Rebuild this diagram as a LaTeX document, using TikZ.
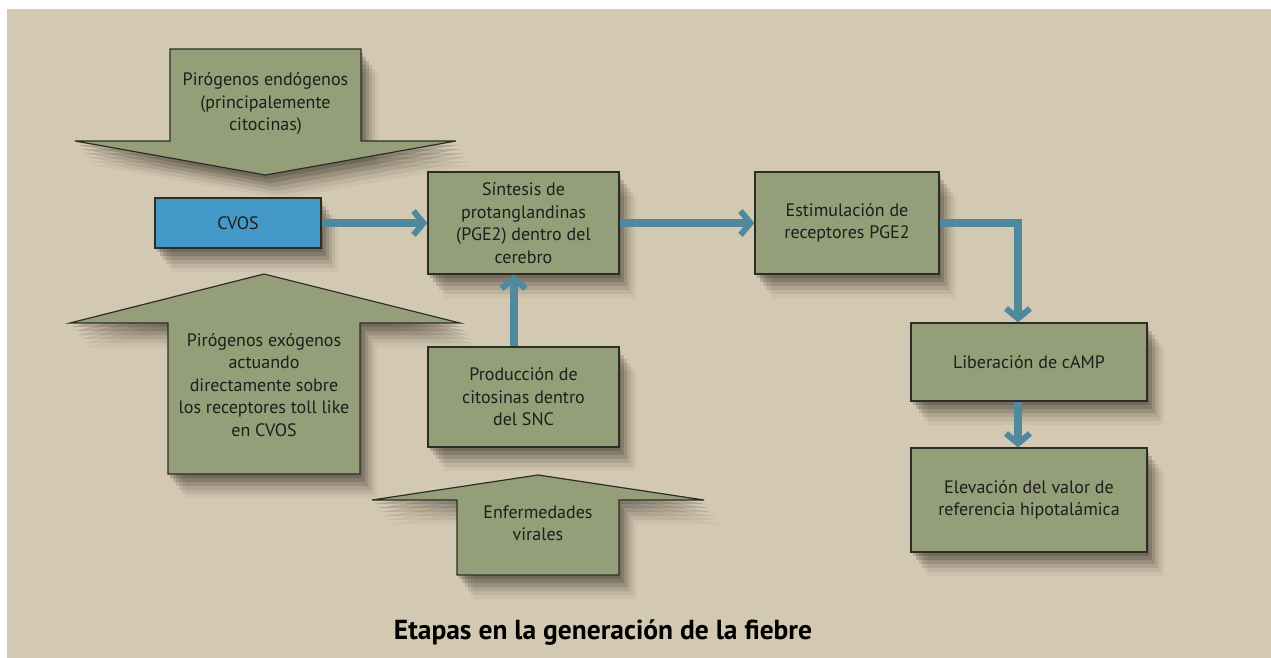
\documentclass[tikz,border=0pt]{standalone}
\usepackage{fontspec}
\setmainfont{PT Sans}
\usetikzlibrary{arrows.meta}

\definecolor{sand}{RGB}{211,200,178}
\definecolor{olive}{RGB}{148,158,121}
\definecolor{cvosblue}{RGB}{68,152,200}
\definecolor{flowteal}{RGB}{78,137,157}
\definecolor{edge}{RGB}{45,45,40}
\definecolor{ink}{RGB}{30,30,28}
\definecolor{shadowc}{RGB}{55,45,35}

\begin{document}
\begin{tikzpicture}[x=1pt,y=1pt]
        \tikzstyle{every node}+=[inner sep=0pt,text=ink,font=\fontsize{18}{22.5}\selectfont]
        \tikzstyle{halo}=[fill=shadowc,draw=none]
        \tikzstyle{shade}=[preaction={halo,opacity=.22,transform canvas={shift={(2pt,-4pt)}}},
                preaction={halo,opacity=.2,transform canvas={shift={(5pt,-8pt)}}},
                preaction={halo,opacity=.16,transform canvas={shift={(8pt,-12pt)}}},
                preaction={halo,opacity=.12,transform canvas={shift={(11pt,-16pt)}}},
                preaction={halo,opacity=.08,transform canvas={shift={(14pt,-20pt)}}},
                preaction={halo,opacity=.05,transform canvas={shift={(17pt,-24pt)}}}]
        \tikzstyle{stage}=[draw=edge,line width=1.2pt,fill=olive,shade,align=center]
        \tikzstyle{bigarrow}=[draw=edge,line width=1.2pt,fill=olive,shade]
        \tikzstyle{flow}=[draw=flowteal,line width=8pt,-{Straight Barb[length=10pt,width=24pt,line width=6pt,line join=miter]}]
        % frame
        \fill [white] (0,0) rectangle (1271,-658);
        \fill [sand] (7,-9) rectangle (1271,-658);
        \useasboundingbox (0,0) rectangle (1271,-658);
        % big arrows
        \draw [bigarrow] (170,-49) -- (361,-49) -- (361,-141) -- (456,-141) -- (265.5,-175) -- (75,-141) -- (170,-141) -- cycle;
        \node [align=center] (endo) at (265.5,-104) {Pirógenos endógenos\\(principalemente\\citocinas)};
        \draw [bigarrow] (168,-474) -- (360,-474) -- (360,-323) -- (460,-323) -- (264,-274) -- (70,-323) -- (168,-323) -- cycle;
        \node [align=center] (exo) at (264,-385) {Pirógenos exógenos\\actuando\\directamente sobre\\los receptores toll like\\en CVOS};
        \draw [bigarrow] (457,-575) -- (619,-575) -- (619,-500) -- (704,-500) -- (538,-475) -- (372,-500) -- (457,-500) -- cycle;
        \node [align=center] (viral) at (538,-523) {Enfermedades\\virales};
        % boxes
        \node [stage,fill=cvosblue,minimum width=166pt,minimum height=50pt] (cvos) at (238,-223) {CVOS};
        \node [stage,minimum width=191pt,minimum height=102pt] (sint) at (523.5,-223) {Síntesis de\\protanglandinas\\(PGE2) dentro del\\cerebro};
        \node [stage,minimum width=191pt,minimum height=100pt] (prod) at (523.5,-397) {Producción de\\citosinas dentro\\del SNC};
        \node [stage,minimum width=184pt,minimum height=102pt] (estim) at (847,-223) {Estimulación de\\receptores PGE2};
        \node [stage,minimum width=236pt,minimum height=78pt] (liber) at (1029,-362) {Liberación de cAMP};
        \node [stage,minimum width=236pt,minimum height=104pt] (elev) at (1029,-500) {Elevación del valor de\\referencia hipotalámica};
        % connectors
        \draw [flow] (cvos.east) -- (sint.west);
        \draw [flow] (sint.east) -- (estim.west);
        \draw [flow] ([xshift=-10pt]prod.north) -- ([xshift=-10pt]sint.south);
        \draw [flow] (estim.east) -| ([xshift=-11pt]liber.north);
        \draw [flow] ([xshift=-11pt]liber.south) -- ([xshift=-11pt]elev.north);
        % title
        \node [font=\fontsize{27.5}{32}\selectfont\bfseries,text=black] (title) at (603,-633) {Etapas en la generación de la fiebre};
\end{tikzpicture}
\end{document}
